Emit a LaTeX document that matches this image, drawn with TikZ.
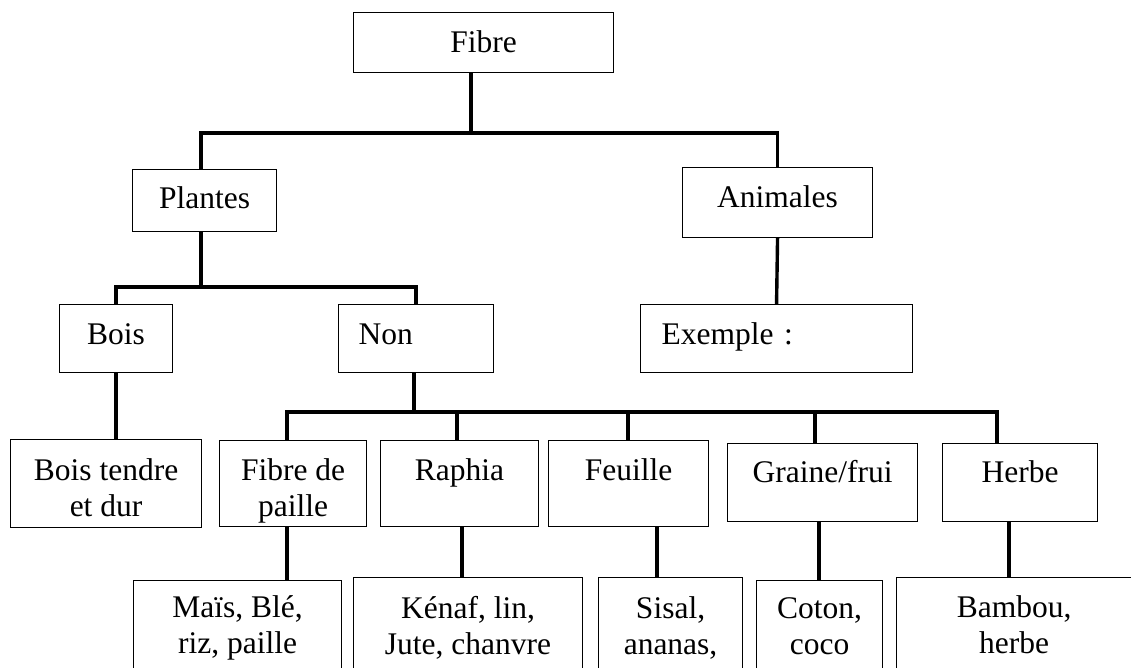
\documentclass[tikz,border=0pt]{standalone}
\usepackage{fontspec}
\setmainfont{Liberation Serif}
\newcommand{\boxfont}{\fontsize{31.5}{35.5}\selectfont}
\tikzset{
  box/.style ={draw, line width=1.1pt, inner sep=0pt, align=center, anchor=north west, font=\boxfont},
  lbox/.style={box, align=left, inner xsep=20pt},
  conn/.style={line width=3.4pt},
}

\begin{document}
\begin{tikzpicture}[x=1pt, y=-1pt]
  \clip (0,0) rectangle (1131,668);
  % first levels
  \node[box, minimum width=260, text height=40, text depth=20] (fibre) at (353,12) {Fibre};
  \node[box, minimum width=144, text height=39, text depth=23] (plantes) at (132,169) {Plantes};
  \node[box, minimum width=190, text height=40, text depth=30] (animales) at (682,167) {Animales};
  \node[box, minimum width=113, text height=40, text depth=28] (bois) at (59,304) {Bois};
  \node[lbox, text width=115, text height=40, text depth=28] (non) at (338,304) {Non};
  \node[lbox, inner xsep=21pt, text width=230, text height=40, text depth=28] (exemple) at (640,304) {Exemple :};
  % kinds
  \node[box, minimum width=191, text height=76.5, text depth=11.5] (boist) at (10,439) {Bois tendre\\et dur};
  \node[box, minimum width=147, text height=75.5, text depth=10.5] (paille) at (219,440) {Fibre de\\paille};
  \node[box, minimum width=158, text height=40, text depth=46] (raphia) at (380,440) {Raphia};
  \node[box, minimum width=160, text height=40, text depth=46] (feuille) at (548,440) {Feuille};
  \node[box, minimum width=190, text height=39, text depth=39] (graine) at (727,443) {Graine/frui};
  \node[box, minimum width=155, text height=39, text depth=39] (herbe) at (942,443) {Herbe};
  % examples
  \node[box, minimum width=208, text height=72.5, text depth=34.5] (mais) at (133,580) {Maïs, Blé,\\riz, paille};
  \node[box, minimum width=229, text height=76.5, text depth=34.5] (kenaf) at (353,577) {Kénaf, lin,\\Jute, chanvre};
  \node[box, minimum width=144, text height=76.5, text depth=34.5] (sisal) at (598,577) {Sisal,\\ananas,};
  \node[box, minimum width=126, text height=73.5, text depth=34.5] (coton) at (756,580) {Coton,\\coco};
  \node[box, minimum width=235, text height=75.5, text depth=34.5] (bambou) at (896,577) {Bambou,\\herbe};

  % connectors
  \coordinate (j1) at (471,133);
  \draw[conn] (fibre.south -| j1) -- (j1);
  \draw[conn] (plantes.north -| 201,0) |- (j1) -| (animales.north);
  \coordinate (j2) at (201,287);
  \draw[conn] (plantes.south -| j2) -- (j2);
  \draw[conn] (bois.north) |- (j2) -| (non.north);
  \draw[conn] (animales.south) -- (exemple.north);
  \draw[conn] (bois.south) -- (boist.north -| bois.south);
  \coordinate (j3) at (414,412);
  \draw[conn] (non.south -| j3) -- (j3);
  \draw[conn] (paille.north -| 287,0) |- (j3) -| (herbe.north -| 997,0);
  \draw[conn] (raphia.north -| 457,0) -- (j3 -| 457,0);
  \draw[conn] (feuille.north -| 628,0) -- (j3 -| 628,0);
  \draw[conn] (graine.north -| 815,0) -- (j3 -| 815,0);
  \draw[conn] (paille.south -| 287,0) -- (mais.north -| 287,0);
  \draw[conn] (raphia.south -| 462,0) -- (kenaf.north -| 462,0);
  \draw[conn] (feuille.south -| 657,0) -- (sisal.north -| 657,0);
  \draw[conn] (graine.south -| 819,0) -- (coton.north -| 819,0);
  \draw[conn] (herbe.south -| 1009,0) -- (bambou.north -| 1009,0);
\end{tikzpicture}
\end{document}
